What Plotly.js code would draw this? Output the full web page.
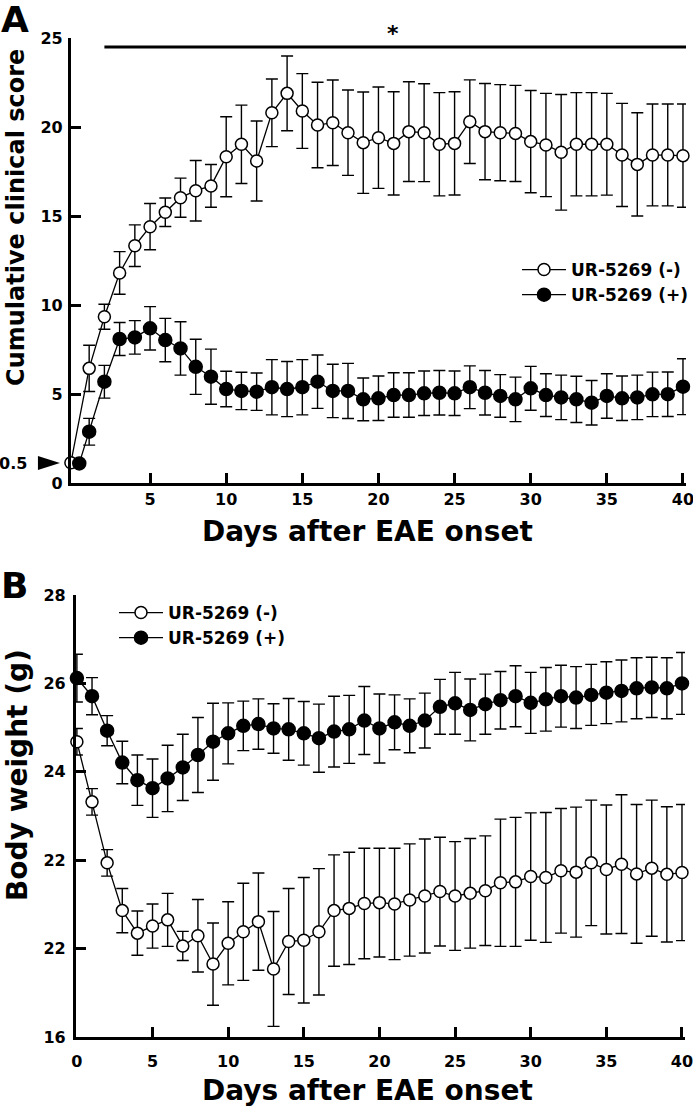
<!DOCTYPE html>
<html>
<head>
<meta charset="utf-8">
<script src="https://cdn.plot.ly/plotly-3.0.1.min.js"></script>
<style>
  html, body { margin: 0; padding: 0; background: #fff; }
  #chart { width: 693px; height: 1106px; }
</style>
</head>
<body>
<div id="chart"></div>
<script>
// Panel A: cumulative clinical score
const daysOpenA   = [-0.2, 1, 2, 3, 4, 5, 6, 7, 8, 9, 10, 11, 12, 13, 14, 15, 16, 17, 18, 19, 20, 21, 22, 23, 24, 25, 26, 27, 28, 29, 30, 31, 32, 33, 34, 35, 36, 37, 38, 39, 40];
const daysFilledA = [0.35, 1, 2, 3, 4, 5, 6, 7, 8, 9, 10, 11, 12, 13, 14, 15, 16, 17, 18, 19, 20, 21, 22, 23, 24, 25, 26, 27, 28, 29, 30, 31, 32, 33, 34, 35, 36, 37, 38, 39, 40];
const scoreOpen = [1.14, 6.44, 9.34, 11.8, 13.33, 14.4, 15.21, 16.03, 16.42, 16.69, 18.33, 19.03, 18.09, 20.8, 21.89, 20.9, 20.11, 20.24, 19.68, 19.12,
  19.4, 19.08, 19.74, 19.68, 19.03, 19.08, 20.3, 19.74, 19.68, 19.64, 19.18, 18.99, 18.58, 19.03, 19.03, 19.03, 18.43, 17.9, 18.43, 18.43, 18.39];
const scoreOpenErr = [0, 1.3, 0.7, 1.2, 1.17, 1.3, 0.8, 1.1, 1.7, 1.2, 2.25, 2.2, 2.25, 1.9, 2.1, 2.1, 2.4, 2.4, 2.4, 2.85,
  2.85, 2.9, 2.8, 2.75, 2.9, 2.9, 2.35, 2.7, 2.7, 2.7, 2.87, 2.9, 3.25, 2.9, 2.9, 2.86, 2.9, 2.9, 2.86, 2.86, 2.9];
const scoreFilled = [1.1, 2.88, 5.69, 8.09, 8.18, 8.69, 8.03, 7.56, 6.53, 5.97, 5.28, 5.17, 5.13, 5.38, 5.28, 5.38, 5.69, 5.17, 5.17, 4.7,
  4.76, 4.94, 4.94, 5.04, 5.07, 5.04, 5.38, 5.07, 4.89, 4.7, 5.32, 4.94, 4.81, 4.7, 4.51, 4.89, 4.76, 4.81, 4.98, 4.99, 5.41];
const scoreFilledErr = [0, 0.75, 0.92, 0.93, 0.94, 1.22, 1.22, 1.5, 1.55, 1.55, 1.0, 1.05, 1.05, 1.55, 1.55, 1.55, 1.5, 1.5, 1.55, 1.2,
  1.25, 1.25, 1.25, 1.25, 1.25, 1.25, 1.2, 1.25, 1.2, 1.25, 1.23, 1.2, 1.25, 1.3, 1.25, 1.25, 1.25, 1.25, 1.25, 1.25, 1.57];

// Panel B: body weight
const daysB = [0, 1, 2, 3, 4, 5, 6, 7, 8, 9, 10, 11, 12, 13, 14, 15, 16, 17, 18, 19, 20, 21, 22, 23, 24, 25, 26, 27, 28, 29, 30, 31, 32, 33, 34, 35, 36, 37, 38, 39, 40];
const weightOpen = [24.68, 23.32, 21.94, 20.86, 20.35, 20.51, 20.65, 20.06, 20.29, 19.65, 20.12, 20.38, 20.61, 19.54, 20.16, 20.19, 20.38, 20.86, 20.91, 21.02,
  21.04, 21.01, 21.1, 21.19, 21.29, 21.19, 21.25, 21.31, 21.49, 21.51, 21.63, 21.61, 21.76, 21.73, 21.94, 21.79, 21.91, 21.69, 21.82, 21.68, 21.72];
const weightOpenErr = [0.3, 0.3, 0.3, 0.5, 0.5, 0.5, 0.6, 0.33, 0.82, 0.93, 0.94, 1.1, 1.1, 1.3, 1.2, 1.42, 1.43, 1.26, 1.27, 1.25,
  1.23, 1.26, 1.27, 1.29, 1.23, 1.23, 1.24, 1.24, 1.44, 1.46, 1.44, 1.47, 1.41, 1.47, 1.42, 1.46, 1.57, 1.57, 1.54, 1.53, 1.54];
const weightFilled = [26.12, 25.71, 24.93, 24.21, 23.81, 23.63, 23.85, 24.1, 24.38, 24.68, 24.87, 25.04, 25.08, 24.98, 24.96, 24.87, 24.76, 24.91, 24.96, 25.16,
  24.98, 25.12, 25.04, 25.16, 25.47, 25.55, 25.4, 25.53, 25.62, 25.71, 25.56, 25.64, 25.71, 25.68, 25.74, 25.79, 25.83, 25.89, 25.91, 25.89, 26.0];
const weightFilledErr = [0.54, 0.42, 0.34, 0.48, 0.57, 0.66, 0.75, 0.75, 0.85, 0.87, 0.69, 0.56, 0.57, 0.56, 0.7, 0.72, 0.77, 0.8, 0.77, 0.77,
  0.78, 0.62, 0.61, 0.62, 0.62, 0.7, 0.7, 0.68, 0.65, 0.69, 0.69, 0.72, 0.7, 0.7, 0.69, 0.7, 0.7, 0.69, 0.68, 0.69, 0.7];

const ticksA_x = [5, 10, 15, 20, 25, 30, 35, 40];
const ticksA_y = [0, 5, 10, 15, 20, 25];
const ticksB_x = [0, 5, 10, 15, 20, 25, 30, 35, 40];
const ticksB_y = [18, 20, 22, 24, 26, 28];
const ticksB_ytext = ["16", "22", "22", "24", "26", "28"];
const seriesNames = ["UR-5269 (-)", "UR-5269 (+)"];

const W = 693, H = 1106;
const px = x => x / W;
const py = y => 1 - y / H;
const FONT = "DejaVu Sans, Liberation Sans, Arial, sans-serif";
const bold = (size) => ({ family: FONT, size, color: "#000", weight: "bold" });

function series(x, y, err, name, filled, xa, ya, legend) {
  return {
    x, y, name, type: "scatter", mode: "lines+markers",
    xaxis: xa, yaxis: ya, legend, cliponaxis: false,
    line: { color: "#000", width: 1.3 },
    marker: { size: filled ? 13 : 12, color: filled ? "#000" : "#fff", line: { color: "#000", width: 1.5 } },
    error_y: { type: "data", array: err, visible: true, color: "#000", thickness: 1.4, width: 6 }
  };
}

const traces = [
  series(daysOpenA, scoreOpen, scoreOpenErr, seriesNames[0], false, "x", "y", "legend"),
  series(daysFilledA, scoreFilled, scoreFilledErr, seriesNames[1], true, "x", "y", "legend"),
  series(daysB, weightOpen, weightOpenErr, seriesNames[0], false, "x2", "y2", "legend2"),
  series(daysB, weightFilled, weightFilledErr, seriesNames[1], true, "x2", "y2", "legend2")
];

const axisBase = {
  showgrid: false, zeroline: false, showline: true, linecolor: "#000", linewidth: 3,
  ticks: "inside", ticklen: 10, tickwidth: 3, tickcolor: "#000",
  tickmode: "array", tickfont: bold(16), fixedrange: true, ticklabeloverflow: "allow"
};

const layout = {
  width: W, height: H, autosize: false,
  margin: { l: 0, r: 0, t: 0, b: 0 },
  paper_bgcolor: "#fff", plot_bgcolor: "#fff",
  showlegend: true,
  xaxis: { ...axisBase, domain: [px(71), px(687)], range: [-0.2, 40.2], tickvals: ticksA_x, ticklabelstandoff: 0, anchor: "y" },
  yaxis: { ...axisBase, domain: [py(483), py(38)], range: [0, 25], tickvals: ticksA_y, ticklabelstandoff: 2, anchor: "x" },
  xaxis2: { ...axisBase, domain: [px(76), px(686)], range: [-0.066, 40.2], tickvals: ticksB_x, ticklabelstandoff: 8, anchor: "y2" },
  yaxis2: { ...axisBase, domain: [py(1037), py(595)], range: [18, 28], tickvals: ticksB_y, ticktext: ticksB_ytext, ticklabelstandoff: 4, anchor: "x2" },
  legend: { x: px(518), y: py(252), xanchor: "left", yanchor: "top", font: bold(17), bgcolor: "rgba(0,0,0,0)", itemwidth: 44, tracegroupgap: 0 },
  legend2: { x: px(114), y: py(595), xanchor: "left", yanchor: "top", font: bold(17), bgcolor: "rgba(0,0,0,0)", itemwidth: 44, tracegroupgap: 0 },
  shapes: [
    { type: "line", xref: "x", yref: "y", x0: 2, x1: 40.2, y0: 24.5, y1: 24.5, line: { color: "#000", width: 3 } },
    { type: "path", xref: "paper", yref: "paper", fillcolor: "#000", line: { width: 0 },
      path: `M ${px(38)} ${py(456)} L ${px(60)} ${py(463)} L ${px(38)} ${py(470)} Z` }
  ],
  annotations: [
    { text: "A", xref: "paper", yref: "paper", x: px(-1), y: py(20), xanchor: "left", yanchor: "middle", showarrow: false, font: bold(36) },
    { text: "B", xref: "paper", yref: "paper", x: px(-1), y: py(585), xanchor: "left", yanchor: "middle", showarrow: false, font: bold(36) },
    { text: "*", xref: "paper", yref: "paper", x: px(394), y: py(33), xanchor: "center", yanchor: "middle", showarrow: false, font: bold(22) },
    { text: "0.5", xref: "paper", yref: "paper", x: px(29), y: py(463), xanchor: "right", yanchor: "middle", showarrow: false, font: bold(16) },
    { text: "Cumulative clinical score", xref: "paper", yref: "paper", x: px(16), y: py(217), textangle: -90, xanchor: "center", yanchor: "middle", showarrow: false, font: bold(24) },
    { text: "Body weight (g)", xref: "paper", yref: "paper", x: px(17), y: py(775), textangle: -90, xanchor: "center", yanchor: "middle", showarrow: false, font: bold(28) },
    { text: "Days after EAE onset", xref: "paper", yref: "paper", x: px(368), y: py(531), xanchor: "center", yanchor: "middle", showarrow: false, font: bold(28) },
    { text: "Days after EAE onset", xref: "paper", yref: "paper", x: px(368), y: py(1090), xanchor: "center", yanchor: "middle", showarrow: false, font: bold(28) }
  ]
};

Plotly.newPlot("chart", traces, layout, { displayModeBar: false, staticPlot: true });
</script>
</body>
</html>
